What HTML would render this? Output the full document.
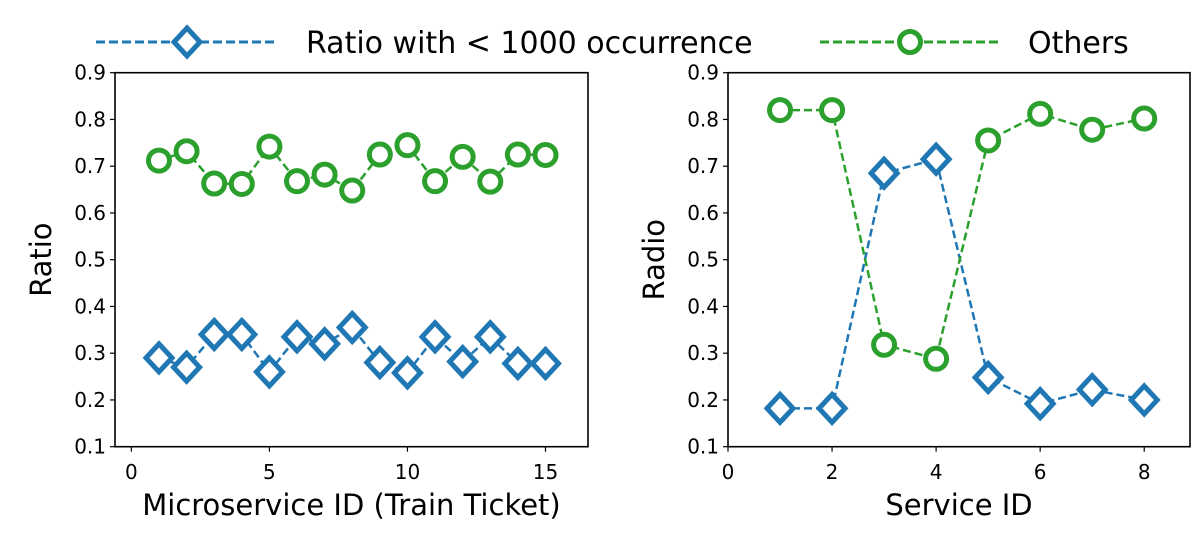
<!DOCTYPE html>
<html><head><meta charset="utf-8"><style>
body{margin:0;background:#fff;font-family:"DejaVu Sans","Liberation Sans",sans-serif;}
svg text{font-family:"DejaVu Sans","Liberation Sans",sans-serif;}
</style></head><body>
<svg id="c" width="1204" height="536" xmlns="http://www.w3.org/2000/svg"></svg>
<script>
const leftIds=[1,2,3,4,5,6,7,8,9,10,11,12,13,14,15];
const leftRare=[0.29,0.27,0.34,0.34,0.26,0.335,0.32,0.355,0.28,0.258,0.335,0.282,0.335,0.278,0.278];
const leftOthers=[0.712,0.732,0.663,0.662,0.742,0.668,0.682,0.648,0.725,0.745,0.668,0.72,0.667,0.725,0.724];
const rightIds=[1,2,3,4,5,6,7,8];
const rightRare=[0.182,0.182,0.685,0.715,0.248,0.192,0.222,0.2];
const rightOthers=[0.82,0.82,0.318,0.288,0.755,0.812,0.778,0.802];
const yTicks=[0.1,0.2,0.3,0.4,0.5,0.6,0.7,0.8,0.9];
const leftXTicks=[0,5,10,15];
const rightXTicks=[0,2,4,6,8];

const NS="http://www.w3.org/2000/svg";
const svg=document.getElementById('c');
function mk(tag,attrs,parent){const e=document.createElementNS(NS,tag);for(const k in attrs)e.setAttribute(k,attrs[k]);(parent||svg).appendChild(e);return e;}
const BLUE="#1f77b4",GREEN="#2ca02c";
const TOP=72.7,BOT=446.7;
const yS=v=>TOP+(0.9-v)/0.8*(BOT-TOP);

function panel(name,x0,x1,xmin,xmax,ids,rare,others,xt,xlabel,ylabel){
  const xS=v=>x0+(v-xmin)/(xmax-xmin)*(x1-x0);
  const g=mk('g',{});
  
  
  yTicks.forEach(t=>{
    const l=mk('line',{x1:x0-5,x2:x0,y1:yS(t),y2:yS(t),stroke:'#000','stroke-width':1.2},g);
    
    
    const tx=mk('text',{x:x0-9,y:yS(t)+7,'text-anchor':'end','font-size':20},g);
    
    
    tx.textContent=t.toFixed(1);
  });
  xt.forEach(t=>{
    mk('line',{x1:xS(t),x2:xS(t),y1:BOT,y2:BOT+5,stroke:'#000','stroke-width':1.2},g);
    const tx=mk('text',{x:xS(t),y:479,'text-anchor':'middle','font-size':20},g);
    
    
    tx.textContent=t;
  });
  const xl=mk('text',{x:(x0+x1)/2,y:515,'text-anchor':'middle','font-size':29},g);
  
  
  xl.textContent=xlabel;
  const yc=(TOP+BOT)/2, yx=x0-64;
  const yl=mk('text',{x:yx,y:yc,'text-anchor':'middle','font-size':29,transform:`rotate(-90 ${yx} ${yc})`},g);
  
  
  yl.textContent=ylabel;
  [[rare,BLUE,'d'],[others,GREEN,'o']].forEach(([vals,col,m])=>{
    const pts=ids.map((id,i)=>xS(id)+','+yS(vals[i])).join(' ');
    const pl=mk('polyline',{points:pts,fill:'none',stroke:col,'stroke-width':2.5,'stroke-dasharray':'8,4'},g);
    
    
    ids.forEach((id,i)=>{
      const cx=xS(id),cy=yS(vals[i]);let e;
      if(m==='d') e=mk('polygon',{points:`${cx},${cy-14} ${cx+13},${cy} ${cx},${cy+14} ${cx-13},${cy}`,fill:'#fff',stroke:col,'stroke-width':5},g);
      else e=mk('circle',{cx:cx,cy:cy,r:10.5,fill:'#fff',stroke:col,'stroke-width':5},g);
      
      
    });
  });
  const fr=mk('rect',{x:x0,y:TOP,width:x1-x0,height:BOT-TOP,fill:'none',stroke:'#000','stroke-width':1.6},g);
  
  
}
panel('left-panel',115,588,-0.593,16.54,leftIds,leftRare,leftOthers,leftXTicks,'Microservice ID (Train Ticket)','Ratio');
panel('right-panel',728,1190,0,8.88,rightIds,rightRare,rightOthers,rightXTicks,'Service ID','Radio');

// legend
const lg=mk('g',{});


mk('line',{x1:96,x2:277,y1:42,y2:42,stroke:BLUE,'stroke-width':3,'stroke-dasharray':'9,4'},lg);
mk('polygon',{points:'187,28 200,42 187,56 174,42',fill:'#fff',stroke:BLUE,'stroke-width':5},lg);
const t1=mk('text',{x:306,y:53,'font-size':30},lg);


t1.textContent='Ratio with < 1000 occurrence';
mk('line',{x1:820,x2:1000,y1:42,y2:42,stroke:GREEN,'stroke-width':3,'stroke-dasharray':'9,4'},lg);
mk('circle',{cx:910,cy:42,r:10.5,fill:'#fff',stroke:GREEN,'stroke-width':5},lg);
const t2=mk('text',{x:1028,y:53,'font-size':30},lg);


t2.textContent='Others';
</script>
</body></html>
